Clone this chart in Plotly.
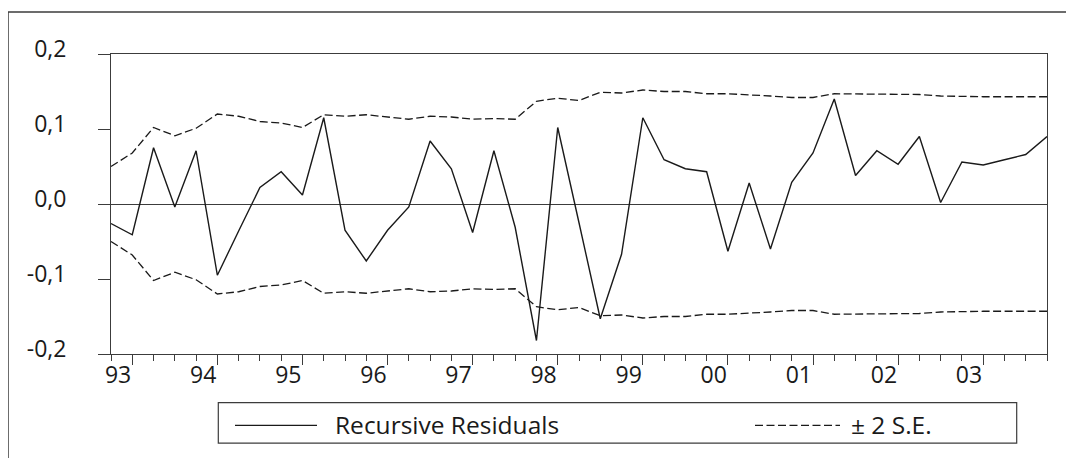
import plotly.graph_objects as go

# ---- data (quarterly, 1992Q4 .. 2003Q4) ----
quarters = [f"{y}Q{q}" for y in range(1992, 2004) for q in range(1, 5)][3:]
resid = [-0.026, -0.041, 0.075, -0.004, 0.071, -0.095, -0.036, 0.022, 0.043, 0.012,
         0.115, -0.035, -0.076, -0.035, -0.004, 0.084, 0.047, -0.038, 0.071, -0.031,
         -0.182, 0.102, -0.025, -0.153, -0.067, 0.115, 0.059, 0.047, 0.043, -0.063,
         0.028, -0.060, 0.029, 0.068, 0.140, 0.038, 0.071, 0.053, 0.090, 0.002,
         0.056, 0.052, 0.059, 0.066, 0.090]
se2 = [0.050, 0.068, 0.102, 0.091, 0.101, 0.120, 0.117, 0.110, 0.108, 0.102,
       0.119, 0.117, 0.119, 0.116, 0.113, 0.117, 0.116, 0.113, 0.114, 0.113,
       0.137, 0.141, 0.138, 0.149, 0.148, 0.152, 0.150, 0.150, 0.147, 0.147,
       0.146, 0.144, 0.142, 0.142, 0.147, 0.147, 0.147, 0.146, 0.146, 0.144,
       0.143, 0.143, 0.143, 0.143, 0.143]
year_labels = ["93", "94", "95", "96", "97", "98", "99", "00", "01", "02", "03"]
y_tickvals = [-0.2, -0.1, 0.0, 0.1, 0.2]
y_ticktext = ["-0,2", "-0,1", "0,0", "0,1", "0,2"]
legend_names = ["Recursive Residuals", "\u00b1 2 S.E."]

x = list(range(len(quarters)))
year_pos = [i for i, q in enumerate(quarters) if q.endswith("Q1")]
upper = [v for v in se2]
lower = [-v for v in se2]

INK = "#1a1a1a"
AX = "#3c3c3c"
FONT = "Open Sans"
OFF = 8  # page body margin
W, H = 1074 - OFF, 458 - OFF
L, R, T, B = 111 - OFF, 1074 - 1047, 54 - OFF, 458 - 353.7
DASH = "8px,3.5px"

def px(v):  # page pixel x -> paper
    v -= OFF
    return (v - L) / (W - L - R)

def py(v):  # page pixel y -> paper
    v -= OFF
    return (H - B - v) / (H - T - B)

fig = go.Figure()
fig.add_trace(go.Scatter(x=x, y=upper, mode="lines", name=legend_names[1],
                         line=dict(color=INK, width=1.3, dash=DASH)))
fig.add_trace(go.Scatter(x=x, y=lower, mode="lines", showlegend=False,
                         line=dict(color=INK, width=1.3, dash=DASH)))
fig.add_trace(go.Scatter(x=x, y=resid, mode="lines", name=legend_names[0],
                         line=dict(color=INK, width=1.4)))

fig.update_layout(
    width=W, height=H,
    margin=dict(l=L, r=R, t=T, b=B, autoexpand=False),
    paper_bgcolor="white", plot_bgcolor="white",
    showlegend=False,
    font=dict(family=FONT, size=23, color=INK),
    xaxis=dict(range=[0, len(x) - 1], showgrid=False, zeroline=False,
               showline=True, linecolor=AX, linewidth=1, mirror=True,
               tickmode="array", tickvals=year_pos, ticktext=year_labels,
               ticks="outside", ticklen=10, tickwidth=1, tickcolor=AX,
               ticklabelposition="outside left", ticklabelstandoff=0,
               minor=dict(tickmode="array", tickvals=x, ticks="outside",
                          ticklen=6, tickwidth=1, tickcolor=AX, showgrid=False)),
    yaxis=dict(range=[-0.2, 0.2], showgrid=False,
               zeroline=True, zerolinecolor=AX, zerolinewidth=1,
               showline=True, linecolor=AX, linewidth=1, mirror=True,
               tickmode="array", tickvals=y_tickvals, ticktext=y_ticktext,
               ticks="outside", ticklen=12, tickwidth=1, tickcolor=AX,
               ticklabelstandoff=27, ticklabelshift=-5),
)

shapes = [
    # outer frame (left and top edges visible)
    dict(type="rect", xref="paper", yref="paper", x0=px(8), x1=px(1110), y0=py(480), y1=py(12),
         line=dict(color=AX, width=1.5), layer="below"),
    # legend box
    dict(type="rect", xref="paper", yref="paper", x0=px(218.3), x1=px(1016.7), y0=py(442.7), y1=py(402.3),
         line=dict(color=AX, width=1.2)),
    dict(type="line", xref="paper", yref="paper", x0=px(235), x1=px(317), y0=py(425), y1=py(425),
         line=dict(color=INK, width=1.4)),
    dict(type="line", xref="paper", yref="paper", x0=px(755), x1=px(840), y0=py(425), y1=py(425),
         line=dict(color=INK, width=1.3, dash=DASH)),
]
fig.update_layout(shapes=shapes)
fig.add_annotation(xref="paper", yref="paper", x=px(333), y=py(424), text=legend_names[0],
                   showarrow=False, xanchor="left", yanchor="middle", font=dict(size=24.5))
fig.add_annotation(xref="paper", yref="paper", x=px(849), y=py(424), text=legend_names[1],
                   showarrow=False, xanchor="left", yanchor="middle", font=dict(size=24.5))

fig.write_html("out.html")
